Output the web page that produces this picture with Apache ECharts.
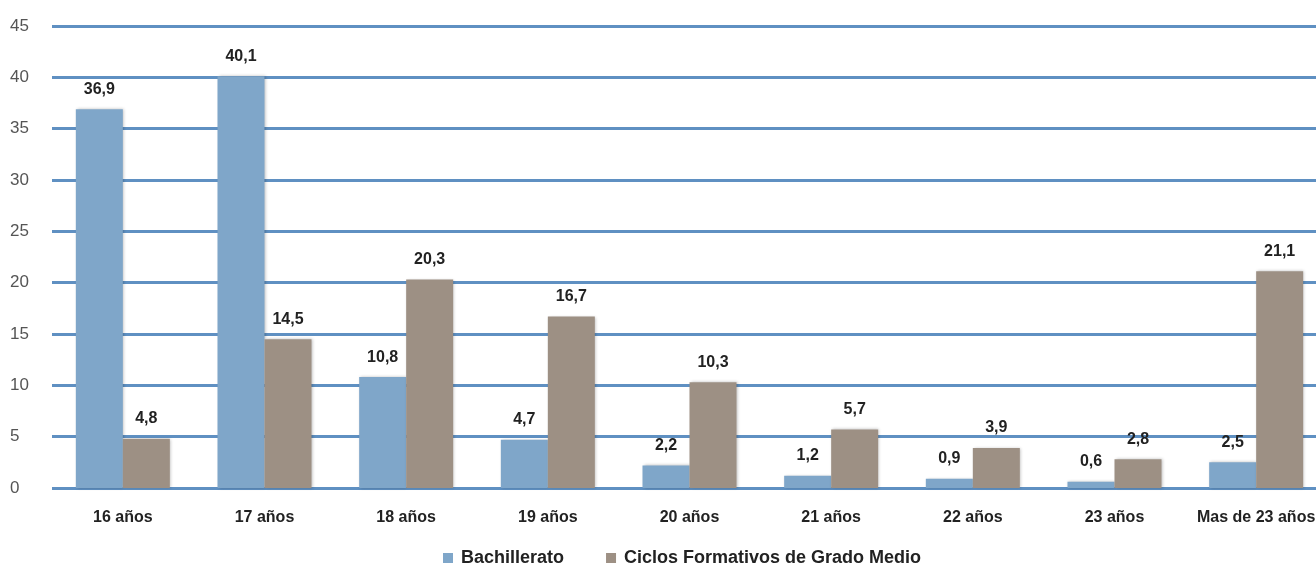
<!DOCTYPE html>
<html><head><meta charset="utf-8">
<script src="https://cdn.jsdelivr.net/npm/echarts@6/dist/echarts.min.js"></script>
<style>html,body{margin:0;padding:0;background:#fff}#c{width:1316px;height:574px}</style>
</head><body><div id="c"></div>
<script>
var categories = ['16 años','17 años','18 años','19 años','20 años','21 años','22 años','23 años','Mas de 23 años'];
var bachillerato = [36.9, 40.1, 10.8, 4.7, 2.2, 1.2, 0.9, 0.6, 2.5];
var ciclos = [4.8, 14.5, 20.3, 16.7, 10.3, 5.7, 3.9, 2.8, 21.1];
var seriesNames = ['Bachillerato', 'Ciclos Formativos de Grado Medio'];
var FONT = "'Liberation Sans Narrow','Arial Narrow','Liberation Sans',sans-serif";
var chart = echarts.init(document.getElementById('c'));
function lbl(p){ return String(p.value).replace('.', ','); }
var labelStyle = {show:true, position:'top', distance:12, formatter:lbl, fontFamily:FONT, fontSize:16, fontWeight:'bold', color:'#222'};
chart.setOption({
  animation:false,
  grid:{left:52, right:-11, top:26, bottom:86, containLabel:false, outerBoundsMode:'none'},
  legend:{bottom:2, left:438, itemWidth:10, itemHeight:10, itemGap:42,
    textStyle:{fontFamily:FONT, fontSize:18, fontWeight:'bold', color:'#222', padding:[0,0,0,3]},
    icon:'rect', data:seriesNames},
  xAxis:{type:'category', data:categories,
    axisLine:{show:false}, axisTick:{show:false},
    axisLabel:{fontFamily:FONT, fontSize:16, fontWeight:'bold', color:'#222', margin:22, interval:0}},
  yAxis:{type:'value', min:0, max:45, interval:5,
    axisLine:{show:false}, axisTick:{show:false},
    axisLabel:{fontFamily:FONT, fontSize:17, color:'#555', margin:22, align:'left', padding:[0,0,0,-20]},
    splitLine:{lineStyle:{color:'#5f90c2', width:3}}},
  series:[
    {name:seriesNames[0], type:'bar', data:bachillerato, barWidth:47, barGap:'0%',
     itemStyle:{color:'#7fa6c9', shadowColor:'rgba(0,0,0,0.25)', shadowBlur:3, shadowOffsetX:1},
     label:labelStyle},
    {name:seriesNames[1], type:'bar', data:ciclos, barWidth:47, barGap:'0%',
     itemStyle:{color:'#9d9084', shadowColor:'rgba(0,0,0,0.25)', shadowBlur:3, shadowOffsetX:1},
     label:labelStyle}
  ]
});
</script></body></html>
